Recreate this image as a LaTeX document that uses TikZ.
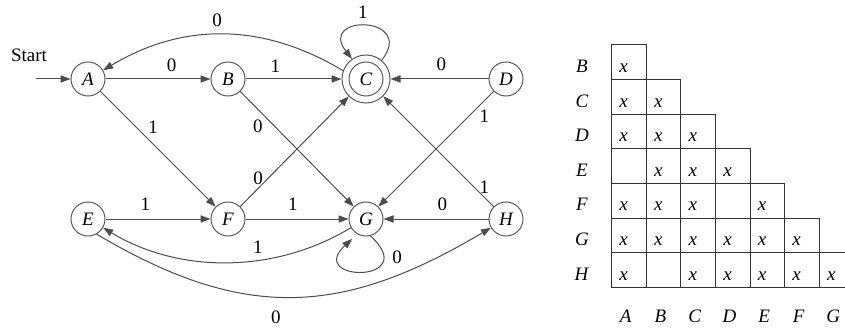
\documentclass[tikz,border=0pt]{standalone}
\usepackage{fontspec}
\setmainfont{Liberation Serif}
\usetikzlibrary{arrows.meta}
\begin{document}
\begin{tikzpicture}[x=0.5pt,y=0.5pt,
  every node/.style={font=\fontsize{9.5}{11}\selectfont},
  state/.style={circle,draw=black!65,line width=0.5pt,minimum size=17pt,inner sep=0pt,font=\fontsize{9.5}{11}\selectfont\itshape},
  accept/.style={circle,draw=black!65,line width=0.5pt,minimum size=24pt,inner sep=0pt},
  edge/.style={draw=black!70,line width=0.5pt,-{Triangle[length=5pt,width=3.6pt]}},
  lbl/.style={anchor=center,inner sep=0pt},
  tbl/.style={draw=black!80,line width=0.5pt},
]
\useasboundingbox (0,0) rectangle (845,327);
\clip (0,0) rectangle (845,327);

% states
\node[state] (A) at (88,248) {A};
\node[state] (B) at (228,248) {B};
\node[accept] (C) at (366,248) {};
\node[state] (Ci) at (366,248) {C};
\node[state] (D) at (506,248) {D};
\node[state] (E) at (88,108) {E};
\node[state] (F) at (228,108) {F};
\node[state] (G) at (366,108) {G};
\node[state] (H) at (506,108) {H};

% start
\node[anchor=base,inner sep=0pt] (st) at (29,265) {Start};
\coordinate (s) at (36,248);
\draw[edge] (s) -- (A);

% straight edges
\draw[edge] (A) -- node[lbl,pos=0.63,shift={(0,14)}]{0} (B);
\draw[edge] (B) -- node[lbl,pos=0.31,shift={(0,13)}]{1} (C);
\draw[edge] (D) -- node[lbl,pos=0.48,shift={(0,15)}]{0} (C);
\draw[edge] (A) -- node[lbl,pos=0.38,shift={(9,8)}]{1} (F);
\draw[edge] (B) -- node[lbl,pos=0.23,shift={(-8.6,-8.8)}]{0} (G);
\draw[edge] (F) -- node[lbl,pos=0.21,shift={(-5,5)}]{0} (C);
\draw[edge] (D) -- node[lbl,pos=0.15,shift={(8,-8)}]{1} (G);
\draw[edge] (H) -- node[lbl,pos=0.13,shift={(5,5)}]{1} (C);
\draw[edge] (E) -- node[lbl,pos=0.38,shift={(0,15)}]{1} (F);
\draw[edge] (F) -- node[lbl,pos=0.46,shift={(0,15)}]{1} (G);
\draw[edge] (H) -- node[lbl,pos=0.44,shift={(0,15)}]{0} (G);

% curved edges
\draw[edge] (C.160) .. controls +(-80,48) and +(80,48) .. node[lbl,pos=0.5,shift={(-6,14)}]{0} (A.30);
\draw[edge] (G.210) .. controls +(-76,-46) and +(76,-46) .. node[lbl,pos=0.38,shift={(0,13)}]{1} (E.-30);
\draw[edge] (E.-60) .. controls +(148,-88) and +(-148,-88) .. node[lbl,pos=0.5,shift={(-18,-20)}]{0} (H.-150);

% loops
\draw[edge] (C.50) .. controls +(35,45) and +(-35,45) .. node[lbl,pos=0.5,shift={(-4,14)}]{1} (C.125);
\draw[edge,shorten >=3.5pt] (G.-75) .. controls +(52,-48) and +(-52,-48) .. node[lbl,pos=0.25,shift={(14,5)}]{0} (G.-120);

% table grid
\foreach \i in {0,...,6}{
  \foreach \j in {0,...,\i}{
    \draw[tbl] ({611.7+34.6*\j},{282-34.6*\i}) rectangle ++(34.6,-34.6);
  }
}
% row labels
\foreach \l [count=\i from 0] in {B,C,D,E,F,G,H}{
  \node[anchor=base,inner sep=0pt] (r\l) at (582,{282-34.6*\i-27.5}) {\textit{\l}};
}
% column labels
\foreach \l [count=\j from 0] in {A,B,C,D,E,F,G}{
  \node[anchor=base,inner sep=0pt] (c\l) at ({625.7+34.6*\j},4.5) {\textit{\l}};
}
% marks
\foreach \i/\j in {0/0, 1/0,1/1, 2/0,2/1,2/2, 3/1,3/2,3/3, 4/0,4/1,4/2,4/4,
                   5/0,5/1,5/2,5/3,5/4,5/5, 6/0,6/2,6/3,6/4,6/5,6/6}{
  \node[anchor=base,inner sep=0pt] (m\i\j) at ({611.7+12+34.6*\j},{282-34.6*\i-27.5}) {\textit{x}};
}
\end{tikzpicture}
\end{document}
